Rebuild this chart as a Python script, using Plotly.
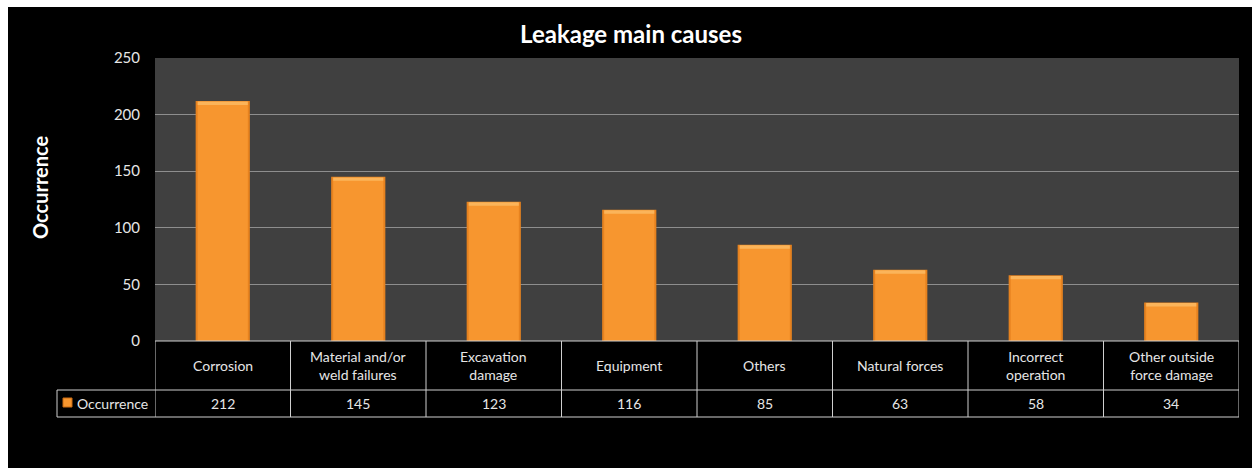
import plotly.graph_objects as go

# Leakage causes and their occurrence counts
causes = [
    "Corrosion",
    "Material and/or<br>weld failures",
    "Excavation<br>damage",
    "Equipment",
    "Others",
    "Natural forces",
    "Incorrect<br>operation",
    "Other outside<br>force damage",
]
occurrence = [212, 145, 123, 116, 85, 63, 58, 34]
series_name = "Occurrence"
y_ticks = [0, 50, 100, 150, 200, 250]

W, H = 1252, 468
L, R, T, B = 155, 13, 58, 127
plot_w = W - L - R
plot_h = H - T - B


def px_x(p):
    return (p - L) / plot_w


def px_y(p):
    return (H - B - p) / plot_h


FONT = "Lato"
GRID = "#8e8e8e"
BORDER = "#cfcfcf"
TXT = "#e6e6e6"

xs = list(range(len(causes)))
n = len(causes)

fig = go.Figure()
# bar body with a slightly darker rim
fig.add_trace(go.Bar(
    x=xs, y=occurrence, width=0.4, name=series_name,
    marker=dict(color="#E6821F", line=dict(width=0)),
    hoverinfo="skip",
))
fig.add_trace(go.Bar(
    x=xs, y=[v - 1 for v in occurrence], width=0.37,
    marker=dict(color="#F7962F", line=dict(width=0)),
    hoverinfo="skip",
))
# light bevel along the top edge of each bar
fig.add_trace(go.Bar(
    x=xs, y=[3] * n, base=[v - 3.5 for v in occurrence], width=0.37,
    marker=dict(color="#FBB45A", line=dict(width=0)),
    hoverinfo="skip",
))

shapes = []
# white strips framing the black chart area
shapes.append(dict(type="rect", xref="paper", yref="paper",
                   x0=px_x(-5), x1=px_x(W + 5), y0=px_y(7), y1=px_y(-5),
                   fillcolor="white", line=dict(width=0), layer="above"))
shapes.append(dict(type="rect", xref="paper", yref="paper",
                   x0=px_x(-5), x1=px_x(8), y0=px_y(H + 5), y1=px_y(-5),
                   fillcolor="white", line=dict(width=0), layer="above"))

# data table under the plot
row1 = px_y(390)
row2 = px_y(417)
legend_x0 = px_x(57)
line = dict(color=BORDER, width=1)
shapes.append(dict(type="line", xref="paper", yref="paper", x0=0, x1=1, y0=0, y1=0, line=line))
shapes.append(dict(type="line", xref="paper", yref="paper", x0=legend_x0, x1=1, y0=row1, y1=row1, line=line))
shapes.append(dict(type="line", xref="paper", yref="paper", x0=legend_x0, x1=1, y0=row2, y1=row2, line=line))
shapes.append(dict(type="line", xref="paper", yref="paper", x0=legend_x0, x1=legend_x0, y0=row1, y1=row2, line=line))
for i in range(n + 1):
    shapes.append(dict(type="line", xref="x", yref="paper", x0=i - 0.5, x1=i - 0.5,
                       y0=row2, y1=0, line=line))
# legend key swatch
shapes.append(dict(type="rect", xref="paper", yref="paper",
                   x0=px_x(63), x1=px_x(72), y0=px_y(407), y1=px_y(398),
                   fillcolor="#F7962F", line=dict(color="#C96A12", width=1)))

annotations = []
cell_font = dict(family=FONT, size=14, color=TXT)
for i, c in enumerate(causes):
    annotations.append(dict(x=i, y=(0 + row1) / 2, xref="x", yref="paper", text=c,
                            showarrow=False, font=cell_font,
                            xanchor="center", yanchor="middle"))
    annotations.append(dict(x=i, y=(row1 + row2) / 2, xref="x", yref="paper", text=str(occurrence[i]),
                            showarrow=False, font=cell_font,
                            xanchor="center", yanchor="middle"))
annotations.append(dict(x=px_x(75), y=(row1 + row2) / 2, xref="paper", yref="paper", text=series_name,
                        showarrow=False, font=cell_font,
                        xanchor="left", yanchor="middle"))
annotations.append(dict(x=px_x(40), y=px_y(188), xref="paper", yref="paper", text="<b>Occurrence</b>",
                        textangle=-90, showarrow=False,
                        font=dict(family=FONT, size=20, color="white"),
                        xanchor="center", yanchor="middle"))

fig.update_layout(
    width=W, height=H,
    margin=dict(l=L, r=R, t=T, b=B, pad=0),
    paper_bgcolor="black",
    plot_bgcolor="#404040",
    barmode="overlay",
    showlegend=False,
    title=dict(text="<b>Leakage main causes</b>", x=631 / W, xref="container",
               y=1 - 35 / H, yanchor="middle", xanchor="center",
               font=dict(family=FONT, size=24, color="white")),
    shapes=shapes,
    annotations=annotations,
    xaxis=dict(range=[-0.5, n - 0.5], showticklabels=False, showgrid=False,
               zeroline=False, showline=False, ticks="", fixedrange=True),
    yaxis=dict(range=[0, 250], tickvals=y_ticks, showgrid=True, gridcolor=GRID, gridwidth=1,
               zeroline=False, showline=False, ticks="", ticklabelstandoff=14,
               tickfont=dict(family=FONT, size=15, color=TXT), fixedrange=True),
)

fig.write_html("out.html")
